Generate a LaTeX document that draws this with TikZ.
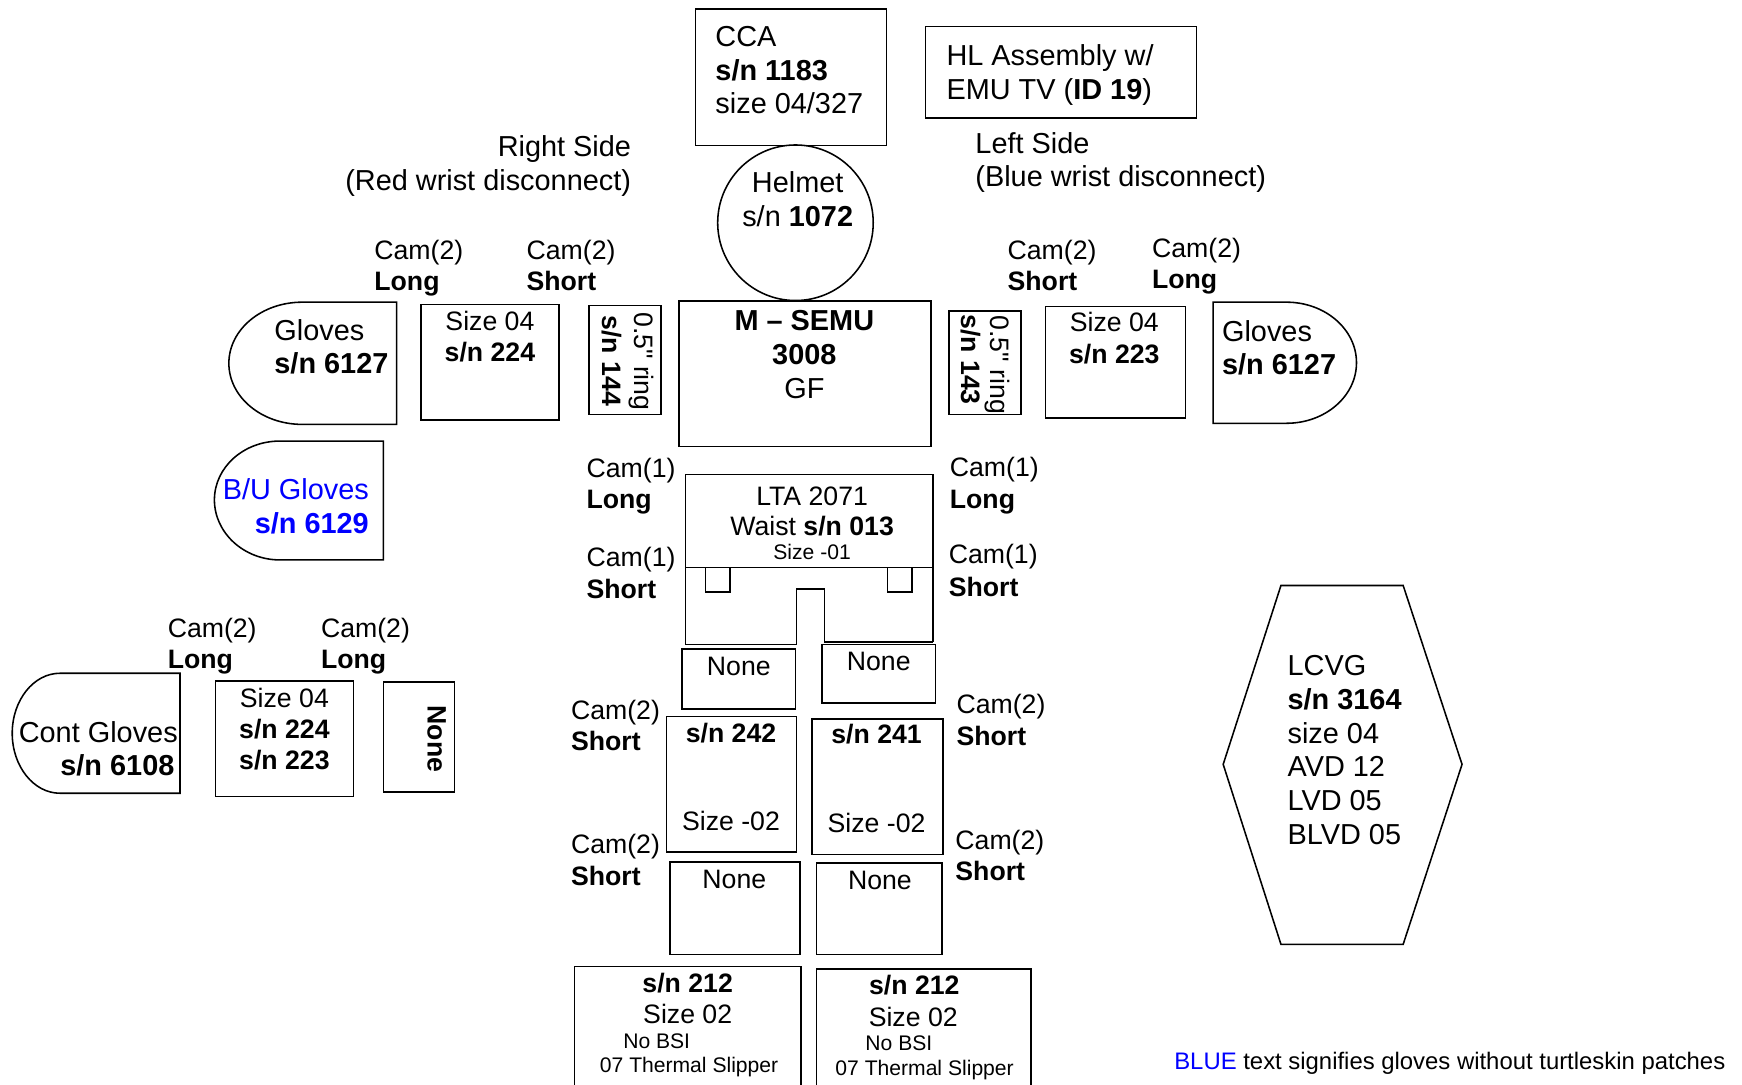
\documentclass[tikz,border=0pt]{standalone}
\usepackage{fontspec}
\setmainfont{Liberation Sans}[Ligatures=TeXOff]
\newcommand\fsA{\fontsize{26}{30}\selectfont}
\newcommand\fsB{\fontsize{24}{28}\selectfont}
\newcommand\fsS{\fontsize{19}{22}\selectfont}
\newcommand\fsG{\fontsize{21.5}{25}\selectfont}
\definecolor{ublue}{RGB}{0,0,255}
\newcommand\mkbox[5]{\node[box, minimum width={(#4)-(#2)}, minimum height={(#5)-(#3)}] (#1) at ({((#2)+(#4))/2},{((#3)+(#5))/2}) {};}
\begin{document}
\begin{tikzpicture}[x=1pt,y=-1pt,
  every node/.style={inner sep=0pt, outer sep=0pt},
  box/.style={draw, line width=1.4pt, rectangle},
  shp/.style={draw, line width=1.4pt, line join=miter},
  tla/.style={anchor=base west, font=\fsA, yshift=-9.3pt},
  tca/.style={anchor=base, font=\fsA, yshift=-9.3pt},
  tra/.style={anchor=base east, font=\fsA, yshift=-9.3pt},
  tlb/.style={anchor=base west, font=\fsB, yshift=-8.6pt},
  tcb/.style={anchor=base, font=\fsB, yshift=-8.6pt},
  tls/.style={anchor=base west, font=\fsS, yshift=-6.8pt},
  tcs/.style={anchor=base, font=\fsS, yshift=-6.8pt},
  tlg/.style={anchor=base west, font=\fsG, yshift=-7.7pt},
  vtx/.style={anchor=base west, rotate=-90, font=\fsB}]
\useasboundingbox (0,0) rectangle (1568,976);
\fill[white] (0,0) rectangle (1568,976);

% ---------- top ----------
\mkbox{cca}{626}{8}{798}{131}
\node[tla] (cca1) at (644,33) {CCA};
\node[tla] (cca2) at (644,63) {\textbf{s/n 1183}};
\node[tla] (cca3) at (644,93) {size 04/327};
\mkbox{hl}{833}{24}{1077}{106}
\node[tla] (hl1) at (852,50) {HL Assembly w/};
\node[tla] (hl2) at (852,80) {EMU TV (\textbf{ID 19})};
\node[draw, circle, line width=1.4pt, minimum size=140pt] (helmet) at (716,200.5) {};
\node[tca] (hel1) at (718,164) {Helmet};
\node[tca] (hel2) at (718,195) {s/n \textbf{1072}};
\node[tra] (rs1) at (568,132) {Right Side};
\node[tra] (rs2) at (568,162) {(Red wrist disconnect)};
\node[tla] (lsd1) at (878,129) {Left Side};
\node[tla] (lsd2) at (878,159) {(Blue wrist disconnect)};

% ---------- cam labels above arms ----------
\node[tlb] (c1a) at (337,225) {Cam(2)};
\node[tlb] (c1b) at (337,253) {\textbf{Long}};
\node[tlb] (c2a) at (474,225) {Cam(2)};
\node[tlb] (c2b) at (474,253) {\textbf{Short}};
\node[tlb] (c3a) at (907,225) {Cam(2)};
\node[tlb] (c3b) at (907,253) {\textbf{Short}};
\node[tlb] (c4a) at (1037,223) {Cam(2)};
\node[tlb] (c4b) at (1037,251) {\textbf{Long}};

% ---------- arm row ----------
\draw[shp] (357,272) -- (272,272) .. controls (235.5,272) and (206,296.6) .. (206,327)
  .. controls (206,357.4) and (235.5,382) .. (272,382) -- (357,382) -- cycle;
\node[tla] (glr1) at (247,297) {Gloves};
\node[tla] (glr2) at (247,327) {\textbf{s/n 6127}};
\mkbox{szr}{379}{274}{503}{378}
\node[tcb] (szr1) at (441,289) {Size 04};
\node[tcb] (szr2) at (441,317) {\textbf{s/n 224}};
\mkbox{ringr}{530}{275}{595}{373}
\node[vtx] (ringr1) at (571,281) {0.5" ring};
\node[vtx] (ringr2) at (542,284) {\textbf{s/n 144}};
\mkbox{semu}{611}{271}{838}{402}
\node[tca] (semu1) at (724,288) {\textbf{M – SEMU}};
\node[tca] (semu2) at (724,319) {\textbf{3008}};
\node[tca] (semu3) at (724,349) {GF};
\mkbox{ringl}{854}{280}{919}{373}
\node[vtx] (ringl1) at (892,284) {0.5" ring};
\node[vtx] (ringl2) at (865,283) {\textbf{s/n 143}};
\mkbox{szl}{941}{276}{1067}{376}
\node[tcb] (szl1) at (1003,290) {Size 04};
\node[tcb] (szl2) at (1003,319) {\textbf{s/n 223}};
\draw[shp] (1092,272) -- (1158,272) .. controls (1192.8,272) and (1221,296.4) .. (1221,326.5)
  .. controls (1221,356.6) and (1192.8,381) .. (1158,381) -- (1092,381) -- cycle;
\node[tla] (gll1) at (1100,298) {Gloves};
\node[tla] (gll2) at (1100,328) {\textbf{s/n 6127}};

% ---------- B/U gloves ----------
\draw[shp] (345,397) -- (252,397) .. controls (219.4,397) and (193,420.5) .. (193,450)
  .. controls (193,479.5) and (219.4,504) .. (252,504) -- (345,504) -- cycle;
\node[tra, text=ublue] (bu1) at (332,440) {B/U Gloves};
\node[tra, text=ublue] (bu2) at (332,471) {\textbf{s/n 6129}};

% ---------- LTA ----------
\draw[shp] (617,580) -- (617,427) -- (840,427) -- (840,578);
\draw[shp] (617,511) -- (840,511);
\draw[shp] (635,511) rectangle (657,533);
\draw[shp] (799,511) rectangle (821,533);
\draw[shp] (617,580) -- (717,580) -- (717,530) -- (742,530) -- (742,578) -- (840,578);
\node[tcb] (lta1) at (731,446) {LTA 2071};
\node[tcb] (lta2) at (731,473) {Waist \textbf{s/n 013}};
\node[tcs] (lta3) at (731,497) {Size -01};
\node[tlb] (k1a) at (528,421) {Cam(1)};
\node[tlb] (k1b) at (528,449) {\textbf{Long}};
\node[tlb] (k2a) at (528,501) {Cam(1)};
\node[tlb] (k2b) at (528,530) {\textbf{Short}};
\node[tlb] (k3a) at (855,420) {Cam(1)};
\node[tlb] (k3b) at (855,449) {\textbf{Long}};
\node[tlb] (k4a) at (854,499) {Cam(1)};
\node[tlb] (k4b) at (854,528) {\textbf{Short}};

% ---------- legs ----------
\mkbox{non1}{614}{584}{716}{638}
\node[tcb] (non1t) at (665,599) {None};
\mkbox{non2}{740}{580}{842}{633}
\node[tcb] (non2t) at (791,595) {None};
\mkbox{thl}{600}{645}{717}{767}
\node[tcb] (thl1) at (658,660) {\textbf{s/n 242}};
\node[tcb] (thl2) at (658,739) {Size -02};
\mkbox{thr}{731}{647}{849}{769}
\node[tcb] (thr1) at (789,661) {\textbf{s/n 241}};
\node[tcb] (thr2) at (789,741) {Size -02};
\node[tlb] (m1a) at (514,639) {Cam(2)};
\node[tlb] (m1b) at (514,667) {\textbf{Short}};
\node[tlb] (m2a) at (514,760) {Cam(2)};
\node[tlb] (m2b) at (514,788) {\textbf{Short}};
\node[tlb] (m3a) at (861,634) {Cam(2)};
\node[tlb] (m3b) at (861,662) {\textbf{Short}};
\node[tlb] (m4a) at (860,756) {Cam(2)};
\node[tlb] (m4b) at (860,784) {\textbf{Short}};
\mkbox{non3}{603}{776}{720}{859}
\node[tcb] (non3t) at (661,791) {None};
\mkbox{non4}{735}{777}{848}{859}
\node[tcb] (non4t) at (792,792) {None};

% ---------- boots ----------
\draw[shp] (517,980) -- (517,870) -- (721,870) -- (721,980);
\node[tcb] (btl1) at (619,885) {\textbf{s/n 212}};
\node[tcb] (btl2) at (619,913) {Size 02};
\node[tls] (btl3) at (561,937) {No BSI};
\node[tls] (btl4) at (540,959) {07 Thermal Slipper};
\draw[shp] (735,980) -- (735,872) -- (928,872) -- (928,980);
\node[tcb] (btr1) at (823,887) {\textbf{s/n 212}};
\node[tcb] (btr2) at (822,915) {Size 02};
\node[tls] (btr3) at (779,939) {No BSI};
\node[tls] (btr4) at (752,961) {07 Thermal Slipper};

% ---------- lower-left cluster ----------
\node[tlb] (q1a) at (151,565) {Cam(2)};
\node[tlb] (q1b) at (151,593) {\textbf{Long}};
\node[tlb] (q2a) at (289,565) {Cam(2)};
\node[tlb] (q2b) at (289,593) {\textbf{Long}};
\draw[shp] (162,606) -- (54,606) .. controls (30.3,606) and (11,630.2) .. (11,660)
  .. controls (11,689.8) and (30.3,714) .. (54,714) -- (162,714) -- cycle;
\node[tra] (cg1) at (160,659) {Cont Gloves};
\node[tra] (cg2) at (157,689) {\textbf{s/n 6108}};
\mkbox{szc}{194}{613}{318}{717}
\node[tcb] (szc1) at (256,628) {Size 04};
\node[tcb] (szc2) at (256,656) {\textbf{s/n 224}};
\node[tcb] (szc3) at (256,684) {\textbf{s/n 223}};
\mkbox{nonv}{345}{614}{409}{713}
\node[vtx] (nonvt) at (385,635) {\textbf{None}};

% ---------- LCVG ----------
\draw[shp] (1153,527) -- (1263,527) -- (1316,688) -- (1263,850) -- (1153,850) -- (1101,688) -- cycle;
\node[tla] (lc1) at (1159,599) {LCVG};
\node[tla] (lc2) at (1159,629) {\textbf{s/n 3164}};
\node[tla] (lc3) at (1159,660) {size 04};
\node[tla] (lc4) at (1159,690) {AVD 12};
\node[tla] (lc5) at (1159,720) {LVD 05};
\node[tla] (lc6) at (1159,751) {BLVD 05};

% ---------- legend ----------
\node[tlg] (leg) at (1057,955) {\textcolor{ublue}{BLUE} text signifies gloves without turtleskin patches};
\end{tikzpicture}
\end{document}
